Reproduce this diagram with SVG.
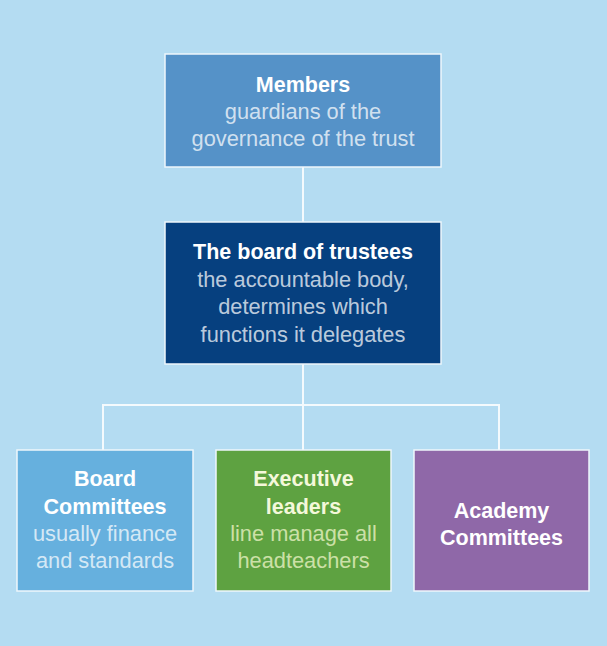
<svg xmlns="http://www.w3.org/2000/svg" width="607" height="646" viewBox="0 0 607 646">
<style>
.box{stroke:#eef6fc;stroke-width:1.5}
.t{font-family:"Liberation Sans",Arial,sans-serif;font-size:21.5px;font-weight:bold;fill:#ffffff;text-anchor:middle}
.s{font-family:"Liberation Sans",Arial,sans-serif;font-size:21.8px;fill:#ffffff;fill-opacity:0.74;text-anchor:middle}
.g .t{fill:#f4f8da}
.g .s{fill:#eaf2c4;fill-opacity:0.8}
.conn{stroke:#f4fafd;stroke-width:2;fill:none}
</style>
<rect width="607" height="646" fill="#b4dcf2"/>
<g id="connectors">
<path class="conn" d="M303 167 V222"/>
<path class="conn" d="M303 364 V450"/>
<path class="conn" d="M103 450 V405 H499 V450"/>
</g>
<g id="members">
<rect class="box" x="165" y="54" width="276" height="113" fill="#5592c8"/>
<text class="t" x="303" y="92">Members</text>
<text class="s" x="303" y="119">guardians of the</text>
<text class="s" x="303" y="146">governance of the trust</text>
</g>
<g id="board">
<rect class="box" x="165" y="222" width="276" height="142" fill="#06407f"/>
<text class="t" x="303" y="259">The board of trustees</text>
<text class="s" x="303" y="287">the accountable body,</text>
<text class="s" x="303" y="314">determines which</text>
<text class="s" x="303" y="342">functions it delegates</text>
</g>
<g id="board-committees">
<rect class="box" x="17" y="450" width="176" height="141" fill="#66b0de"/>
<text class="t" x="105" y="486">Board</text>
<text class="t" x="105" y="514">Committees</text>
<text class="s" x="105" y="541">usually finance</text>
<text class="s" x="105" y="568">and standards</text>
</g>
<g id="executive-leaders" class="g">
<rect class="box" x="216" y="450" width="175" height="141" fill="#5ea241"/>
<text class="t" x="303.5" y="486">Executive</text>
<text class="t" x="303.5" y="514">leaders</text>
<text class="s" x="303.5" y="541">line manage all</text>
<text class="s" x="303.5" y="568">headteachers</text>
</g>
<g id="academy-committees">
<rect class="box" x="414" y="450" width="175" height="141" fill="#8f68a8"/>
<text class="t" x="501.5" y="518">Academy</text>
<text class="t" x="501.5" y="545">Committees</text>
</g>
</svg>
